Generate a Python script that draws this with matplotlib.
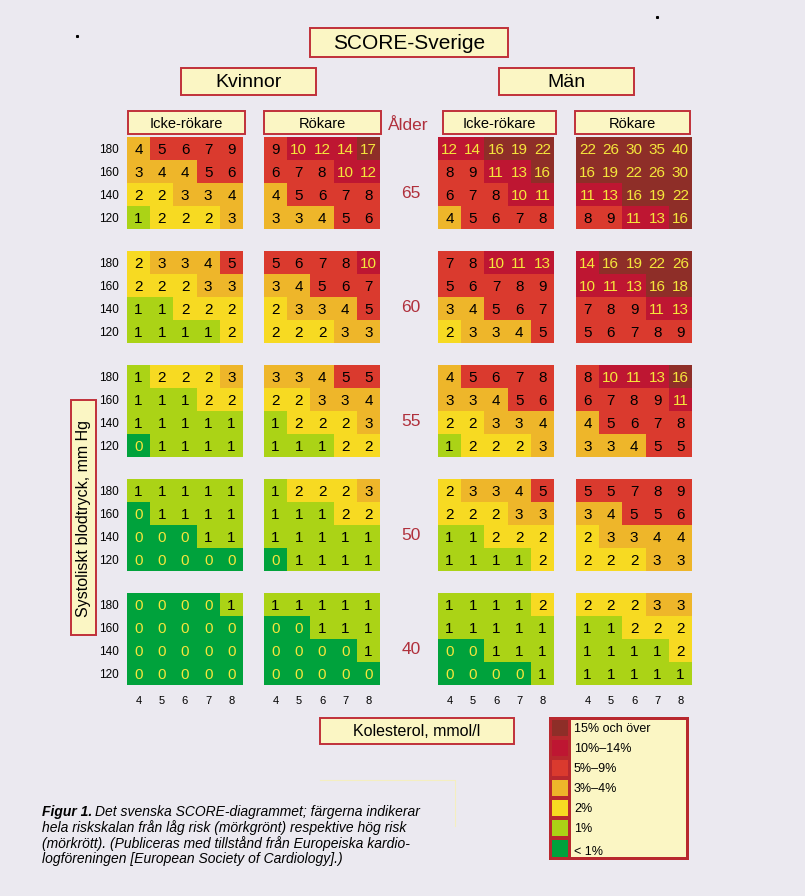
import matplotlib
matplotlib.use("Agg")
import matplotlib.pyplot as plt
from matplotlib.colors import ListedColormap, BoundaryNorm
from matplotlib.patches import Rectangle
import numpy as np

W, H = 805, 896

# SCORE risk (%) per panel; rows: systolic 180,160,140,120; cols: cholesterol 4..8
ages = [65, 60, 55, 50, 40]
sbp_labels = ["180", "160", "140", "120"]
chol_labels = ["4", "5", "6", "7", "8"]

women_nonsmoker = [
    [[4, 5, 6, 7, 9], [3, 4, 4, 5, 6], [2, 2, 3, 3, 4], [1, 2, 2, 2, 3]],
    [[2, 3, 3, 4, 5], [2, 2, 2, 3, 3], [1, 1, 2, 2, 2], [1, 1, 1, 1, 2]],
    [[1, 2, 2, 2, 3], [1, 1, 1, 2, 2], [1, 1, 1, 1, 1], [0, 1, 1, 1, 1]],
    [[1, 1, 1, 1, 1], [0, 1, 1, 1, 1], [0, 0, 0, 1, 1], [0, 0, 0, 0, 0]],
    [[0, 0, 0, 0, 1], [0, 0, 0, 0, 0], [0, 0, 0, 0, 0], [0, 0, 0, 0, 0]],
]
women_smoker = [
    [[9, 10, 12, 14, 17], [6, 7, 8, 10, 12], [4, 5, 6, 7, 8], [3, 3, 4, 5, 6]],
    [[5, 6, 7, 8, 10], [3, 4, 5, 6, 7], [2, 3, 3, 4, 5], [2, 2, 2, 3, 3]],
    [[3, 3, 4, 5, 5], [2, 2, 3, 3, 4], [1, 2, 2, 2, 3], [1, 1, 1, 2, 2]],
    [[1, 2, 2, 2, 3], [1, 1, 1, 2, 2], [1, 1, 1, 1, 1], [0, 1, 1, 1, 1]],
    [[1, 1, 1, 1, 1], [0, 0, 1, 1, 1], [0, 0, 0, 0, 1], [0, 0, 0, 0, 0]],
]
men_nonsmoker = [
    [[12, 14, 16, 19, 22], [8, 9, 11, 13, 16], [6, 7, 8, 10, 11], [4, 5, 6, 7, 8]],
    [[7, 8, 10, 11, 13], [5, 6, 7, 8, 9], [3, 4, 5, 6, 7], [2, 3, 3, 4, 5]],
    [[4, 5, 6, 7, 8], [3, 3, 4, 5, 6], [2, 2, 3, 3, 4], [1, 2, 2, 2, 3]],
    [[2, 3, 3, 4, 5], [2, 2, 2, 3, 3], [1, 1, 2, 2, 2], [1, 1, 1, 1, 2]],
    [[1, 1, 1, 1, 2], [1, 1, 1, 1, 1], [0, 0, 1, 1, 1], [0, 0, 0, 0, 1]],
]
men_smoker = [
    [[22, 26, 30, 35, 40], [16, 19, 22, 26, 30], [11, 13, 16, 19, 22], [8, 9, 11, 13, 16]],
    [[14, 16, 19, 22, 26], [10, 11, 13, 16, 18], [7, 8, 9, 11, 13], [5, 6, 7, 8, 9]],
    [[8, 10, 11, 13, 16], [6, 7, 8, 9, 11], [4, 5, 6, 7, 8], [3, 3, 4, 5, 5]],
    [[5, 5, 7, 8, 9], [3, 4, 5, 5, 6], [2, 3, 3, 4, 4], [2, 2, 2, 3, 3]],
    [[2, 2, 2, 3, 3], [1, 1, 2, 2, 2], [1, 1, 1, 1, 2], [1, 1, 1, 1, 1]],
]

legend_labels = ["15% och över", "10%\u201314%", "5%\u20139%", "3%\u20134%", "2%", "1%", "< 1%"]
level_colors = ["#00a23c", "#abd316", "#f7da22", "#eeb62a", "#da3a2e", "#be1632", "#8e2e28"]
level_bounds = [-0.5, 0.5, 1.5, 2.5, 4.5, 9.5, 14.5, 100]

BG = "#ebe9f0"
BOX = "#fbf6c4"
RED = "#c0303a"
AGE_RED = "#b0303c"

cmap = ListedColormap(level_colors)
norm = BoundaryNorm(level_bounds, cmap.N)

plt.rcParams["font.family"] = ["Liberation Sans", "DejaVu Sans"]

fig = plt.figure(figsize=(W / 100, H / 100), dpi=100, facecolor=BG)


def px_axes(x, y, w, h, **kw):
    return fig.add_axes([x / W, 1 - (y + h) / H, w / W, h / H], **kw)


panels = [women_nonsmoker, women_smoker, men_nonsmoker, men_smoker]
panel_x = [127, 264, 438, 576]
block_y = [137, 251, 365, 479, 593]
pw, ph = 116, 92

for c, panel in enumerate(panels):
    for r, age in enumerate(ages):
        vals = np.array(panel[r])
        ax = px_axes(panel_x[c], block_y[r], pw, ph)
        ax.pcolormesh(np.arange(6), np.arange(5), vals, cmap=cmap, norm=norm)
        ax.set_xlim(0, 5)
        ax.set_ylim(4, 0)
        for i in range(4):
            for j in range(5):
                v = vals[i, j]
                col = "#f5e63c" if (v == 0 or v >= 10) else "black"
                ax.text(j + 0.5, i + 0.55, str(v), ha="center", va="center",
                        fontsize=11, color=col)
        for s in ax.spines.values():
            s.set_visible(False)
        ax.tick_params(length=0)
        if c == 0:
            ax.set_yticks(np.arange(4) + 0.5)
            ax.set_yticklabels(sbp_labels, fontsize=8.5)
            ax.tick_params(axis="y", pad=6)
        else:
            ax.set_yticks([])
        if r == len(ages) - 1:
            ax.set_xticks(np.arange(5) + 0.5)
            ax.set_xticklabels(chol_labels, fontsize=8)
            ax.tick_params(axis="x", pad=8)
        else:
            ax.set_xticks([])

# overlay for headers, boxes and captions
ov = fig.add_axes([0, 0, 1, 1])
ov.set_xlim(0, W)
ov.set_ylim(H, 0)
ov.axis("off")
ov.set_zorder(5)
ov.patch.set_alpha(0)


def box(x0, y0, x1, y1, text, size, rot=0, lw=1.4):
    ov.add_patch(Rectangle((x0, y0), x1 - x0, y1 - y0, facecolor=BOX, edgecolor=RED, lw=lw))
    ov.text((x0 + x1) / 2, (y0 + y1) / 2 + 1, text, ha="center", va="center",
            fontsize=size, rotation=rot, color="black")


box(310, 28, 508, 57, "SCORE-Sverige", 15)
box(181, 68, 316, 95, "Kvinnor", 14)
box(499, 68, 634, 95, "Män", 14)
box(128, 111, 245, 134, "Icke-rökare", 10.5)
box(264, 111, 381, 134, "Rökare", 10.5)
box(443, 111, 556, 134, "Icke-rökare", 10.5)
box(575, 111, 690, 134, "Rökare", 10.5)
box(71, 400, 96, 635, "Systoliskt blodtryck, mm Hg", 11.5, rot=90)
box(320, 718, 514, 744, "Kolesterol, mmol/l", 11.5)

ov.text(408, 125, "Ålder", ha="center", va="center", fontsize=12.5, color=AGE_RED)
for r, age in enumerate(ages):
    ov.text(411, block_y[r] + 56, str(age), ha="center", va="center", fontsize=12.5, color=AGE_RED)

# legend
ov.add_patch(Rectangle((549, 717), 140, 143, facecolor="#b8282e", edgecolor="none"))
ov.add_patch(Rectangle((571, 720), 115, 137, facecolor=BOX, edgecolor="none"))
for k, (lab, colr) in enumerate(zip(legend_labels, level_colors[::-1])):
    top = 720 + 20 * k
    hgt = 16 if k < 6 else 17
    ov.add_patch(Rectangle((552, top), 16, hgt, facecolor=colr, edgecolor="none"))
    ov.text(574, top + 9 + (3 if k == 6 else 0), lab, ha="left", va="center", fontsize=9)

# faint frame near caption (only top and right edges show)
ov.plot([320, 455, 455], [780, 780, 826], color="#f4eec0", lw=0.8)

# caption
cap_lines = [
    "Det svenska SCORE-diagrammet; färgerna indikerar",
    "hela riskskalan från låg risk (mörkgrönt) respektive hög risk",
    "(mörkrött). (Publiceras med tillstånd från Europeiska kardio-",
    "logföreningen [European Society of Cardiology].)",
]
t0 = ov.text(42, 812, "Figur 1.", ha="left", va="center", fontsize=10, style="italic", weight="bold")
fig.canvas.draw()
bb = t0.get_window_extent()
ov.text(42 + bb.width + 3, 812, cap_lines[0], ha="left", va="center", fontsize=10, style="italic")
for k, line in enumerate(cap_lines[1:]):
    ov.text(42, 828 + 15.5 * k, line, ha="left", va="center", fontsize=10, style="italic")

# stray specks in the scan
ov.plot([657, 77], [17, 36], ls="none", marker="s", ms=1.2, color="black")

fig.savefig("out.png", dpi=100, facecolor=BG)
